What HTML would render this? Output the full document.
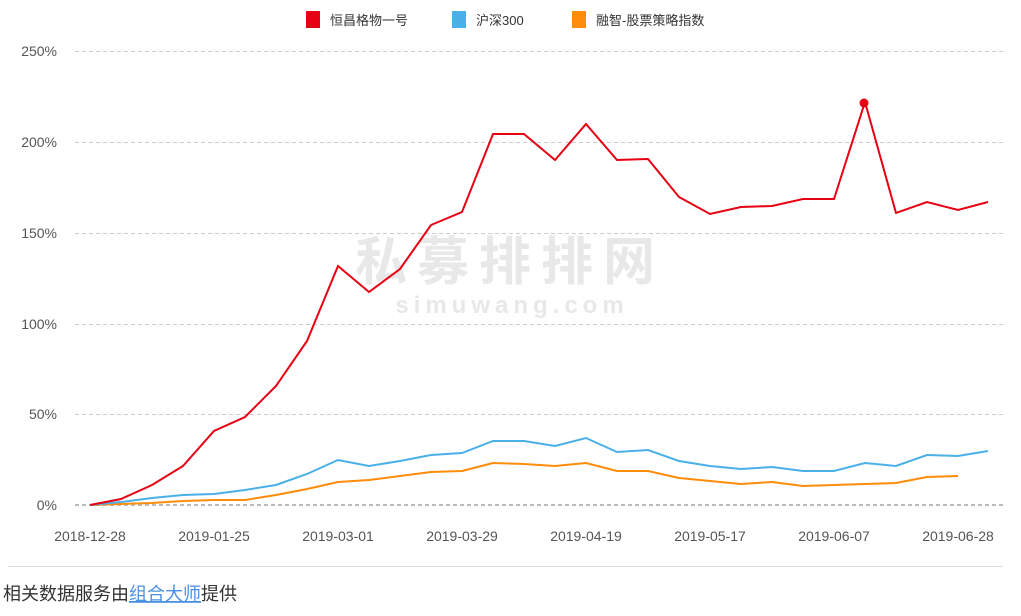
<!DOCTYPE html>
<html><head><meta charset="utf-8"><style>
body{margin:0;background:#fff;width:1021px;height:616px;overflow:hidden;font-family:"Liberation Sans","Noto Sans CJK SC",sans-serif}
</style></head><body>
<svg width="1021" height="616" style="position:absolute;left:0;top:0" font-family="Liberation Sans, Noto Sans CJK SC, sans-serif">
<g font-size="13" fill="#333">
<rect x="306" y="11" width="14" height="17" fill="#e60012"/><text x="330" y="25">恒昌格物一号</text>
<rect x="452" y="11" width="14" height="17" fill="#4ab0e8"/><text x="476" y="25">沪深300</text>
<rect x="572" y="11" width="14" height="17" fill="#ff8c0a"/><text x="596" y="25">融智-股票策略指数</text>
</g>
<g stroke="#ccc" stroke-dasharray="4,3" stroke-width="1">
<line x1="75" x2="1005" y1="51.5" y2="51.5"/><line x1="75" x2="1005" y1="142.5" y2="142.5"/><line x1="75" x2="1005" y1="233.5" y2="233.5"/><line x1="75" x2="1005" y1="324.5" y2="324.5"/><line x1="75" x2="1005" y1="414.5" y2="414.5"/>
<line x1="75" x2="1005" y1="505" y2="505" stroke="#bbb" stroke-width="2"/>
</g>
<g font-size="14" fill="#555" text-anchor="end">
<text x="57" y="56">250%</text><text x="57" y="147">200%</text><text x="57" y="238">150%</text><text x="57" y="329">100%</text><text x="57" y="419">50%</text><text x="57" y="510">0%</text>
</g>
<g font-size="14" fill="#555" text-anchor="middle">
<text x="90" y="541">2018-12-28</text><text x="214" y="541">2019-01-25</text><text x="338" y="541">2019-03-01</text><text x="462" y="541">2019-03-29</text><text x="586" y="541">2019-04-19</text><text x="710" y="541">2019-05-17</text><text x="834" y="541">2019-06-07</text><text x="958" y="541">2019-06-28</text>
</g>
<text x="510" y="280" font-size="52" font-weight="bold" fill="#e8e8e8" text-anchor="middle" letter-spacing="10">私募排排网</text>
<text x="512" y="313" font-size="24" font-weight="bold" fill="#e8e8e8" text-anchor="middle" letter-spacing="5">simuwang.com</text>
<polyline fill="none" stroke="#ff8c0a" stroke-width="2" points="90,505 121,504 152,503 183,501 214,500 245,500 276,495 307,489 338,482 369,480 400,476 431,472 462,471 493,463 524,464 555,466 586,463 617,471 648,471 679,478 710,481 741,484 772,482 803,486 834,485 865,484 896,483 927,477 958,476"/>
<polyline fill="none" stroke="#4ab0e8" stroke-width="2" points="90,505 121,502 152,498 183,495 214,494 245,490 276,485 307,474 338,460 369,466 400,461 431,455 462,453 493,441 524,441 555,446 586,438 617,452 648,450 679,461 710,466 741,469 772,467 803,471 834,471 865,463 896,466 927,455 958,456 988,451"/>
<polyline fill="none" stroke="#e60012" stroke-width="2" points="90,505 121,499 152,485 183,466 214,431 245,417 276,386 307,341 338,266 369,292 400,269 431,225 462,212 493,134 524,134 555,160 586,124 617,160 648,159 679,197 710,214 741,207 772,206 803,199 834,199 865,102 896,213 927,202 958,210 988,202"/>
<circle cx="864" cy="103" r="4.5" fill="#e60012"/>
<line x1="8" x2="1003" y1="566.5" y2="566.5" stroke="#ddd"/>
<text x="3" y="600" font-size="18" fill="#333">相关数据服务由<tspan fill="#4a90e2" text-decoration="underline">组合大师</tspan>提供</text>
</svg>
</body></html>
